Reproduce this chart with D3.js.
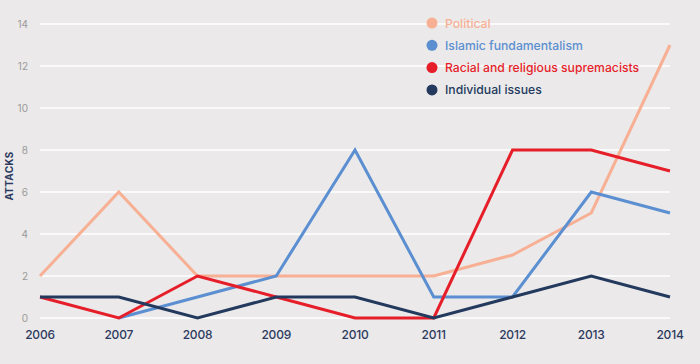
<!DOCTYPE html>
<html><head><meta charset="utf-8">
<script src="https://cdn.jsdelivr.net/npm/d3@7"></script>
<style>
html,body{margin:0;padding:0;background:#ebe9e9;}
svg{display:block;font-family:Inter, "Noto Sans", sans-serif;}
</style></head>
<body><svg id="c" width="700" height="364"></svg>
<script>
const years = [2006,2007,2008,2009,2010,2011,2012,2013,2014];
const political = [2,6,2,2,2,2,3,5,13];
const islamic = [null,0,1,2,8,1,1,6,5];
const racial = [1,0,2,1,0,0,8,8,7];
const individual = [1,1,0,1,1,0,1,2,1];
const yTicks = [0,2,4,6,8,10,12,14];
const seriesNames = ["Political","Islamic fundamentalism","Racial and religious supremacists","Individual issues"];
const seriesColors = ["#f8b095","#5b8fd1","#e61e29","#233a5e"];
const seriesData = [political, islamic, racial, individual];

const svg = d3.select("#c");
const x = d3.scalePoint().domain(years).range([40,670]);
const y = d3.scaleLinear().domain([0,14]).range([318,24]);

svg.append("g").selectAll("line").data(yTicks).join("line")
  .attr("x1",40).attr("x2",670)
  .attr("y1",d=>y(d)).attr("y2",d=>y(d))
  .attr("stroke","#ffffff").attr("stroke-width",1.5);

svg.append("g").selectAll("text").data(yTicks).join("text")
  .attr("x",28).attr("y",d=>y(d)+3.5)
  .attr("text-anchor","end")
  .attr("font-size",10).attr("fill","#9a9a9a")
  .text(d=>d);

svg.append("g").selectAll("text").data(years).join("text")
  .attr("x",d=>x(d)).attr("y",339)
  .attr("text-anchor","middle")
  .attr("font-size",12).attr("font-weight",500).attr("fill","#2b3a5e")
  .attr("letter-spacing",-0.2)
  .text(d=>d);

svg.append("text")
  .attr("transform","translate(13,176) rotate(-90)")
  .attr("text-anchor","middle")
  .attr("font-size",10).attr("font-weight",700).attr("fill","#2b3a5e")
  .attr("letter-spacing",0.3)
  .text("ATTACKS");

const line = d3.line()
  .defined(d=>d.v!==null)
  .x(d=>x(d.year)).y(d=>y(d.v));

seriesData.forEach((arr,i)=>{
  svg.append("path")
    .datum(years.map((yr,j)=>({year:yr,v:arr[j]})))
    .attr("d",line)
    .attr("fill","none")
    .attr("stroke",seriesColors[i])
    .attr("stroke-width",3)
    .attr("stroke-linejoin","miter");
});

const lg = svg.append("g");
seriesNames.forEach((n,i)=>{
  const yy = 23 + i*22.3;
  lg.append("circle").attr("cx",432).attr("cy",yy).attr("r",5.5).attr("fill",seriesColors[i]);
  lg.append("text").attr("x",445).attr("y",yy+4.5)
    .attr("font-size",12.2).attr("font-weight",500).attr("fill",seriesColors[i])
    .text(n);
});
</script></body></html>
